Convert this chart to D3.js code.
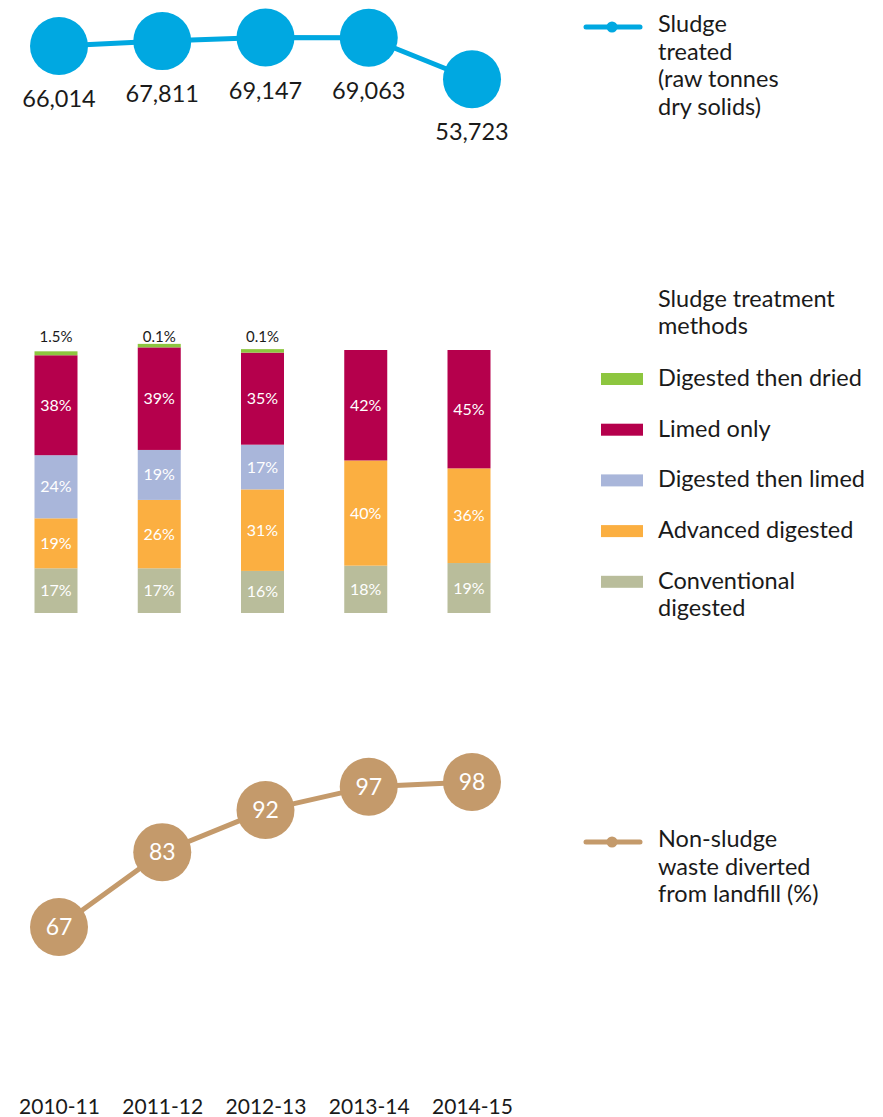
<!DOCTYPE html>
<html>
<head>
<meta charset="utf-8">
<script src="https://cdn.jsdelivr.net/npm/d3@7"></script>
<style>
  body { margin: 0; background: #fff; }
  text { font-family: Lato, "Open Sans", sans-serif; fill: #1a1a1a; }
</style>
</head>
<body>
<svg id="chart" width="883" height="1117"></svg>
<script>
// data
const years = ["2010-11", "2011-12", "2012-13", "2013-14", "2014-15"];
const sludgeTreated = [66014, 67811, 69147, 69063, 53723];
const diverted = [67, 83, 92, 97, 98];

// stacked bar series (bottom to top)
const conventional = [17, 17, 16, 18, 19];
const advanced = [19, 26, 31, 40, 36];
const digestedLimed = [24, 19, 17, 0, 0];
const limedOnly = [38, 39, 35, 42, 45];
const digestedDried = [1.5, 0.1, 0.1, 0, 0];

const methodKeys = ["conventional", "advanced", "digestedLimed", "limedOnly", "digestedDried"];
const methodNames = ["Conventional digested", "Advanced digested", "Digested then limed", "Limed only", "Digested then dried"];
const methodColors = ["#b9bd9b", "#fbaf41", "#a9b6da", "#b5004c", "#8dc63f"];

const blue = "#00a8e1",
    tan = "#c49a6b";

const svg = d3.select("#chart");

// shared x
const x = d3.scalePoint().domain(years).range([59, 472]);

// ---- top: sludge treated ----
const yTop = d3.scaleLinear().domain([53723, 69147]).range([79.3, 37.5]);
const topData = years.map((y, i) => ({ year: y, value: sludgeTreated[i] }));

svg.append("path")
    .datum(topData)
    .attr("fill", "none")
    .attr("stroke", blue)
    .attr("stroke-width", 5)
    .attr("d", d3.line().x(d => x(d.year)).y(d => yTop(d.value)));

svg.selectAll(".topDot")
    .data(topData)
    .join("circle")
    .attr("cx", d => x(d.year))
    .attr("cy", d => yTop(d.value))
    .attr("r", 29)
    .attr("fill", blue);

svg.selectAll(".topLabel")
    .data(topData)
    .join("text")
    .attr("x", d => x(d.year))
    .attr("y", d => yTop(d.value) + 61)
    .attr("text-anchor", "middle")
    .attr("font-size", 23.5)
    .text(d => d3.format(",")(d.value));

// ---- middle: stacked bars ----
const barData = years.map((y, i) => ({
    year: y,
    conventional: conventional[i],
    advanced: advanced[i],
    digestedLimed: digestedLimed[i],
    limedOnly: limedOnly[i],
    digestedDried: digestedDried[i]
}));
const stacked = d3.stack().keys(methodKeys)(barData);
const yBar = d3.scaleLinear().domain([0, 100]).range([613, 350]);
const barW = 43;

const layers = svg.selectAll(".layer")
    .data(stacked)
    .join("g")
    .attr("fill", (d, i) => methodColors[i]);

layers.selectAll("rect")
    .data(d => d.filter(s => s[1] - s[0] > 0))
    .join("rect")
    .attr("x", d => x(d.data.year) - 3 - barW / 2)
    .attr("width", barW)
    .attr("y", function (d) {
        const h = Math.max(yBar(d[0]) - yBar(d[1]), 3.5);
        return yBar(d[0]) - h;
    })
    .attr("height", d => Math.max(yBar(d[0]) - yBar(d[1]), 3.5));

// segment labels (all but the thin top layer)
stacked.slice(0, 4).forEach(layer => {
    svg.selectAll(null)
        .data(layer.filter(s => s[1] - s[0] > 0))
        .join("text")
        .attr("x", d => x(d.data.year) - 3)
        .attr("y", d => (yBar(d[0]) + yBar(d[1])) / 2 + 5.5)
        .attr("text-anchor", "middle")
        .attr("font-size", 16)
        .style("fill", "#fff")
        .text(d => (d[1] - d[0]) + "%");
});

// top thin layer labels
svg.selectAll(".driedLabel")
    .data(barData.filter(d => d.digestedDried > 0))
    .join("text")
    .attr("x", d => x(d.year) - 3)
    .attr("y", 342)
    .attr("text-anchor", "middle")
    .attr("font-size", 15)
    .text(d => d.digestedDried + "%");

// ---- bottom: non-sludge waste diverted ----
const yBot = d3.scaleLinear().domain([67, 98]).range([927, 782]);
const botData = years.map((y, i) => ({ year: y, value: diverted[i] }));

svg.append("path")
    .datum(botData)
    .attr("fill", "none")
    .attr("stroke", tan)
    .attr("stroke-width", 5)
    .attr("d", d3.line().x(d => x(d.year)).y(d => yBot(d.value)));

svg.selectAll(".botDot")
    .data(botData)
    .join("circle")
    .attr("cx", d => x(d.year))
    .attr("cy", d => yBot(d.value))
    .attr("r", 29)
    .attr("fill", tan);

svg.selectAll(".botLabel")
    .data(botData)
    .join("text")
    .attr("x", d => x(d.year))
    .attr("y", d => yBot(d.value) + 8)
    .attr("text-anchor", "middle")
    .attr("font-size", 23)
    .style("fill", "#fff")
    .text(d => d.value);

// x axis
const xAxis = svg.append("g")
    .attr("transform", "translate(0,1097)")
    .call(d3.axisBottom(x).tickSize(0).tickPadding(0));
xAxis.select(".domain").remove();
xAxis.selectAll("text")
    .attr("dy", "0.8em")
    .attr("font-size", 21)
    .style("font-family", "Lato, sans-serif")
    .style("fill", "#1a1a1a");

// ---- legends ----
function lineLegend(y, color, lines) {
    svg.append("line")
        .attr("x1", 586).attr("x2", 640)
        .attr("y1", y).attr("y2", y)
        .attr("stroke", color)
        .attr("stroke-width", 5)
        .attr("stroke-linecap", "round");
    svg.append("circle")
        .attr("cx", 612).attr("cy", y).attr("r", 5.5)
        .attr("fill", color);
    svg.append("text")
        .attr("x", 658)
        .attr("y", y + 5)
        .attr("font-size", 23.5)
        .selectAll("tspan")
        .data(lines)
        .join("tspan")
        .attr("x", 658)
        .attr("dy", (d, i) => i === 0 ? 0 : 27.5)
        .text(d => d);
}

lineLegend(27, blue, ["Sludge", "treated", "(raw tonnes", "dry solids)"]);
lineLegend(842, tan, ["Non-sludge", "waste diverted", "from landfill (%)"]);

svg.append("text")
    .attr("x", 658)
    .attr("y", 307)
    .attr("font-size", 23.5)
    .selectAll("tspan")
    .data(["Sludge treatment", "methods"])
    .join("tspan")
    .attr("x", 658)
    .attr("dy", (d, i) => i === 0 ? 0 : 27)
    .text(d => d);

const legendOrder = [4, 3, 2, 1, 0];
const legendItems = svg.selectAll(".legItem")
    .data(legendOrder)
    .join("g")
    .attr("transform", (d, i) => `translate(0,${379 + i * 50.7})`);

legendItems.append("rect")
    .attr("x", 601)
    .attr("y", -6)
    .attr("width", 42)
    .attr("height", 12)
    .attr("fill", d => methodColors[d]);

legendItems.append("text")
    .attr("x", 658)
    .attr("y", 7)
    .attr("font-size", 23.5)
    .selectAll("tspan")
    .data(d => d === 0 ? ["Conventional", "digested"] : [methodNames[d]])
    .join("tspan")
    .attr("x", 658)
    .attr("dy", (d, i) => i === 0 ? 0 : 27)
    .text(d => d);
</script>
</body>
</html>
